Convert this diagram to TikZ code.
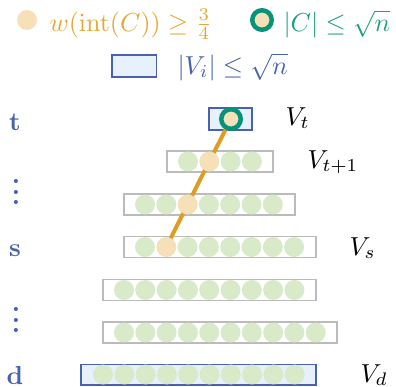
\documentclass[tikz,border=0pt]{standalone}
\usepackage{amsmath}
\definecolor{beige}{HTML}{F5E0B8}
\definecolor{leaf}{HTML}{D9EAC8}
\definecolor{pathor}{HTML}{DE9C22}
\definecolor{ringgreen}{HTML}{06937A}
\definecolor{boxblue}{HTML}{4862AE}
\definecolor{boxfill}{HTML}{E6F1FB}
\definecolor{boxgray}{HTML}{BBBBBB}
\definecolor{txtor}{HTML}{E4A838}
\definecolor{txtteal}{HTML}{1E9E84}
\pgfdeclarelayer{boxes}
\pgfdeclarelayer{lines}
\pgfsetlayers{boxes,lines,main}
\begin{document}
\begin{tikzpicture}[x=1pt,y=-1pt,
  lbl/.style={scale=2.6, inner sep=0pt},
  leafdot/.style={circle, fill=leaf, minimum size=20pt, inner sep=0pt},
  hitdot/.style={circle, fill=beige, minimum size=20pt, inner sep=0pt},
  ringdot/.style={circle, draw=ringgreen, line width=4.5pt, fill=beige, minimum size=19.5pt, inner sep=0pt},
  layerbox/.style={draw=boxgray, line width=1.1pt, fill=white},
  smallbox/.style={draw=boxblue, line width=1.6pt, fill=boxfill},
  route/.style={draw=pathor, line width=4pt},
  sidelbl/.style={lbl, text=boxblue}]
\useasboundingbox (0,0) rectangle (396,386);

% legend
\node[hitdot] (legA) at (27,20) {};
\node[lbl, text=txtor, anchor=base west] (legAt) at (49,31) {$w(\mathrm{int}(C))\geq\tfrac{3}{4}$};
\node[ringdot] (legB) at (262,20) {};
\node[lbl, text=txtteal, anchor=base west] (legBt) at (283,31) {$|C|\leq\sqrt{n}$};
\draw[smallbox] (112,55) rectangle (156.5,77);
\node[lbl, text=boxblue, anchor=base west] (legCt) at (177,74) {$|V_i|\leq\sqrt{n}$};

% top layer V_t
\begin{pgfonlayer}{boxes}
\draw[smallbox] (209,108) rectangle (252,130);
\end{pgfonlayer}
\node[ringdot] (top) at (231,119) {};

% middle layers
\foreach \r/\yy/\bl/\br/\cx/\n/\h in {a/161.5/167/273/188/4/2, b/204.5/124/295/145/7/3, c/247/124/316/145/8/2, e/290/103/316/124/9/0, f/332.5/103/337/124/10/0}{
  \begin{pgfonlayer}{boxes}
  \draw[layerbox] (\bl,\yy-10.5) rectangle (\br,\yy+10.5);
  \end{pgfonlayer}
  \foreach \k in {1,...,\n}{
    \ifnum\k=\h
      \node[hitdot] (\r-\k) at ({\cx+21.3*(\k-1)},\yy) {};
    \else
      \node[leafdot] (\r-\k) at ({\cx+21.3*(\k-1)},\yy) {};
    \fi
  }
}

% bottom layer V_d
\begin{pgfonlayer}{boxes}
\draw[smallbox] (81,364.5) rectangle (316,385);
\end{pgfonlayer}
\foreach \k in {1,...,10}{
  \node[leafdot] (d-\k) at ({103+21.3*(\k-1)},374.5) {};
}

% route
\begin{pgfonlayer}{lines}
\draw[route] (top.center) -- (a-2.center) -- (b-3.center) -- (c-2.center);
\end{pgfonlayer}

% right labels
\node[lbl, anchor=base west] (Vt) at (285,125) {$V_t$};
\node[lbl, anchor=base west] (Vt1) at (307,168) {$V_{t+1}$};
\node[lbl, anchor=base west] (Vs) at (349,255) {$V_s$};
\node[lbl, anchor=base west] (Vd) at (360,382) {$V_d$};

% left labels
\node[sidelbl, anchor=base] (lt) at (15,130) {$\mathbf{t}$};
\node[sidelbl] (ldots1) at (16,184.5) {\bfseries$\vdots$};
\node[sidelbl, anchor=base] (ls) at (15,256) {$\mathbf{s}$};
\node[sidelbl] (ldots2) at (16,312.5) {\bfseries$\vdots$};
\node[sidelbl, anchor=base] (ld) at (15,384) {$\mathbf{d}$};
\end{tikzpicture}
\end{document}
